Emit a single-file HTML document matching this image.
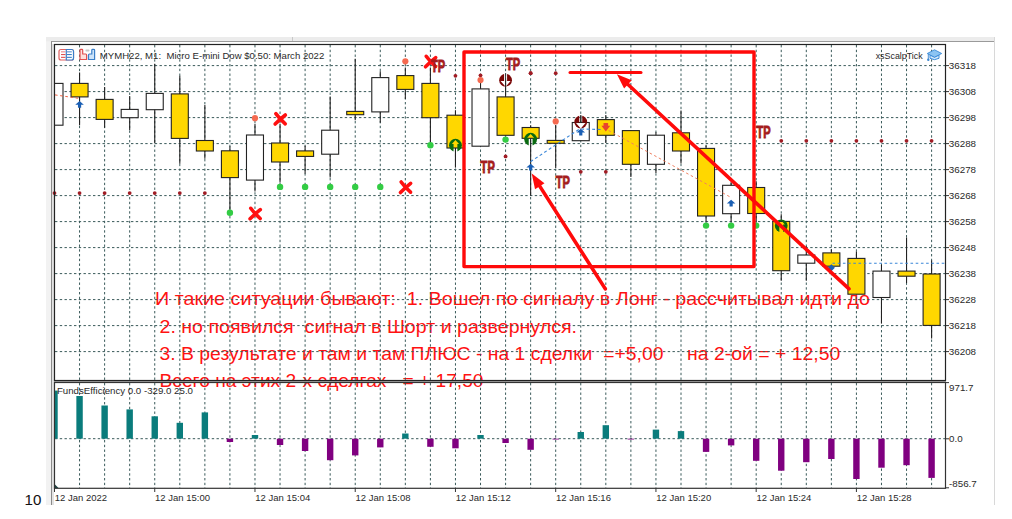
<!DOCTYPE html>
<html><head><meta charset="utf-8"><style>
html,body{margin:0;padding:0;background:#fff;}
svg{display:block;}
text{font-family:"Liberation Sans",sans-serif;white-space:pre;}
.ax{font-size:9.8px;fill:#2a2a2a;}
.tm{font-size:9.5px;fill:#2a2a2a;}
.hd{font-size:9.6px;fill:#2a2a2a;}
.tp{font-size:17.3px;font-weight:bold;fill:#a51c1c;stroke:#a51c1c;stroke-width:0.9px;}
.rt{font-size:19px;fill:#ff1212;}
.ten{font-size:15.1px;fill:#111;}
</style></head><body>
<svg width="1012" height="519" viewBox="0 0 1012 519" xml:space="preserve">
<defs><clipPath id="mainclip"><rect x="55" y="45" width="890" height="335"/></clipPath></defs>
<rect x="46" y="37" width="948.5" height="468" fill="#f2f2f2"/>
<rect x="46" y="37" width="948.5" height="4.3" fill="#ececec"/>
<line x1="51" y1="41.5" x2="994" y2="41.5" stroke="#9a9a9a" stroke-width="1"/>
<line x1="51.5" y1="41.5" x2="51.5" y2="505" stroke="#8a8a8a" stroke-width="1"/>
<rect x="52" y="42" width="942" height="463" fill="#ffffff"/>
<rect x="52" y="44" width="2" height="461" fill="#e2e2e2"/>
<line x1="994.5" y1="37" x2="994.5" y2="505" stroke="#d8d8d8" stroke-width="1"/>
<line x1="292.5" y1="37" x2="292.5" y2="41" stroke="#c8c8c8" stroke-width="1"/>
<text x="155" y="305.1" class="rt" textLength="715" lengthAdjust="spacingAndGlyphs">И такие ситуации бывают:  1. Вошел по сигналу в Лонг - рассчитывал идти до</text>
<text x="159.5" y="332.9" class="rt" textLength="417.5" lengthAdjust="spacingAndGlyphs">2. но появился  сигнал в Шорт и развернулся.</text>
<text x="159.5" y="360.3" class="rt" textLength="504" lengthAdjust="spacingAndGlyphs">3. В результате и там и там ПЛЮС - на 1 сделки  =+5,00</text>
<text x="687" y="360.3" class="rt" textLength="153.3" lengthAdjust="spacingAndGlyphs">на 2-ой = + 12,50</text>
<text x="159.5" y="386.7" class="rt" textLength="324" lengthAdjust="spacingAndGlyphs">Всего на этих 2-х сделгах   = + 17,50</text>
<line x1="79.56" y1="45" x2="79.56" y2="380" stroke="#3a5a5a" stroke-width="1" stroke-dasharray="2.4 2.35"/>
<line x1="79.56" y1="383" x2="79.56" y2="488" stroke="#3a5a5a" stroke-width="1" stroke-dasharray="2.4 2.35"/>
<line x1="104.62" y1="45" x2="104.62" y2="380" stroke="#3a5a5a" stroke-width="1" stroke-dasharray="2.4 2.35"/>
<line x1="104.62" y1="383" x2="104.62" y2="488" stroke="#3a5a5a" stroke-width="1" stroke-dasharray="2.4 2.35"/>
<line x1="129.68" y1="45" x2="129.68" y2="380" stroke="#3a5a5a" stroke-width="1" stroke-dasharray="2.4 2.35"/>
<line x1="129.68" y1="383" x2="129.68" y2="488" stroke="#3a5a5a" stroke-width="1" stroke-dasharray="2.4 2.35"/>
<line x1="154.74" y1="45" x2="154.74" y2="380" stroke="#3a5a5a" stroke-width="1" stroke-dasharray="2.4 2.35"/>
<line x1="154.74" y1="383" x2="154.74" y2="488" stroke="#3a5a5a" stroke-width="1" stroke-dasharray="2.4 2.35"/>
<line x1="179.80" y1="45" x2="179.80" y2="380" stroke="#3a5a5a" stroke-width="1" stroke-dasharray="2.4 2.35"/>
<line x1="179.80" y1="383" x2="179.80" y2="488" stroke="#3a5a5a" stroke-width="1" stroke-dasharray="2.4 2.35"/>
<line x1="204.86" y1="45" x2="204.86" y2="380" stroke="#3a5a5a" stroke-width="1" stroke-dasharray="2.4 2.35"/>
<line x1="204.86" y1="383" x2="204.86" y2="488" stroke="#3a5a5a" stroke-width="1" stroke-dasharray="2.4 2.35"/>
<line x1="229.92" y1="45" x2="229.92" y2="380" stroke="#3a5a5a" stroke-width="1" stroke-dasharray="2.4 2.35"/>
<line x1="229.92" y1="383" x2="229.92" y2="488" stroke="#3a5a5a" stroke-width="1" stroke-dasharray="2.4 2.35"/>
<line x1="254.98" y1="45" x2="254.98" y2="380" stroke="#3a5a5a" stroke-width="1" stroke-dasharray="2.4 2.35"/>
<line x1="254.98" y1="383" x2="254.98" y2="488" stroke="#3a5a5a" stroke-width="1" stroke-dasharray="2.4 2.35"/>
<line x1="280.04" y1="45" x2="280.04" y2="380" stroke="#3a5a5a" stroke-width="1" stroke-dasharray="2.4 2.35"/>
<line x1="280.04" y1="383" x2="280.04" y2="488" stroke="#3a5a5a" stroke-width="1" stroke-dasharray="2.4 2.35"/>
<line x1="305.10" y1="45" x2="305.10" y2="380" stroke="#3a5a5a" stroke-width="1" stroke-dasharray="2.4 2.35"/>
<line x1="305.10" y1="383" x2="305.10" y2="488" stroke="#3a5a5a" stroke-width="1" stroke-dasharray="2.4 2.35"/>
<line x1="330.16" y1="45" x2="330.16" y2="380" stroke="#3a5a5a" stroke-width="1" stroke-dasharray="2.4 2.35"/>
<line x1="330.16" y1="383" x2="330.16" y2="488" stroke="#3a5a5a" stroke-width="1" stroke-dasharray="2.4 2.35"/>
<line x1="355.22" y1="45" x2="355.22" y2="380" stroke="#3a5a5a" stroke-width="1" stroke-dasharray="2.4 2.35"/>
<line x1="355.22" y1="383" x2="355.22" y2="488" stroke="#3a5a5a" stroke-width="1" stroke-dasharray="2.4 2.35"/>
<line x1="380.28" y1="45" x2="380.28" y2="380" stroke="#3a5a5a" stroke-width="1" stroke-dasharray="2.4 2.35"/>
<line x1="380.28" y1="383" x2="380.28" y2="488" stroke="#3a5a5a" stroke-width="1" stroke-dasharray="2.4 2.35"/>
<line x1="405.34" y1="45" x2="405.34" y2="380" stroke="#3a5a5a" stroke-width="1" stroke-dasharray="2.4 2.35"/>
<line x1="405.34" y1="383" x2="405.34" y2="488" stroke="#3a5a5a" stroke-width="1" stroke-dasharray="2.4 2.35"/>
<line x1="430.40" y1="45" x2="430.40" y2="380" stroke="#3a5a5a" stroke-width="1" stroke-dasharray="2.4 2.35"/>
<line x1="430.40" y1="383" x2="430.40" y2="488" stroke="#3a5a5a" stroke-width="1" stroke-dasharray="2.4 2.35"/>
<line x1="455.46" y1="45" x2="455.46" y2="380" stroke="#3a5a5a" stroke-width="1" stroke-dasharray="2.4 2.35"/>
<line x1="455.46" y1="383" x2="455.46" y2="488" stroke="#3a5a5a" stroke-width="1" stroke-dasharray="2.4 2.35"/>
<line x1="480.52" y1="45" x2="480.52" y2="380" stroke="#3a5a5a" stroke-width="1" stroke-dasharray="2.4 2.35"/>
<line x1="480.52" y1="383" x2="480.52" y2="488" stroke="#3a5a5a" stroke-width="1" stroke-dasharray="2.4 2.35"/>
<line x1="505.58" y1="45" x2="505.58" y2="380" stroke="#3a5a5a" stroke-width="1" stroke-dasharray="2.4 2.35"/>
<line x1="505.58" y1="383" x2="505.58" y2="488" stroke="#3a5a5a" stroke-width="1" stroke-dasharray="2.4 2.35"/>
<line x1="530.64" y1="45" x2="530.64" y2="380" stroke="#3a5a5a" stroke-width="1" stroke-dasharray="2.4 2.35"/>
<line x1="530.64" y1="383" x2="530.64" y2="488" stroke="#3a5a5a" stroke-width="1" stroke-dasharray="2.4 2.35"/>
<line x1="555.70" y1="45" x2="555.70" y2="380" stroke="#3a5a5a" stroke-width="1" stroke-dasharray="2.4 2.35"/>
<line x1="555.70" y1="383" x2="555.70" y2="488" stroke="#3a5a5a" stroke-width="1" stroke-dasharray="2.4 2.35"/>
<line x1="580.76" y1="45" x2="580.76" y2="380" stroke="#3a5a5a" stroke-width="1" stroke-dasharray="2.4 2.35"/>
<line x1="580.76" y1="383" x2="580.76" y2="488" stroke="#3a5a5a" stroke-width="1" stroke-dasharray="2.4 2.35"/>
<line x1="605.82" y1="45" x2="605.82" y2="380" stroke="#3a5a5a" stroke-width="1" stroke-dasharray="2.4 2.35"/>
<line x1="605.82" y1="383" x2="605.82" y2="488" stroke="#3a5a5a" stroke-width="1" stroke-dasharray="2.4 2.35"/>
<line x1="630.88" y1="45" x2="630.88" y2="380" stroke="#3a5a5a" stroke-width="1" stroke-dasharray="2.4 2.35"/>
<line x1="630.88" y1="383" x2="630.88" y2="488" stroke="#3a5a5a" stroke-width="1" stroke-dasharray="2.4 2.35"/>
<line x1="655.94" y1="45" x2="655.94" y2="380" stroke="#3a5a5a" stroke-width="1" stroke-dasharray="2.4 2.35"/>
<line x1="655.94" y1="383" x2="655.94" y2="488" stroke="#3a5a5a" stroke-width="1" stroke-dasharray="2.4 2.35"/>
<line x1="681.00" y1="45" x2="681.00" y2="380" stroke="#3a5a5a" stroke-width="1" stroke-dasharray="2.4 2.35"/>
<line x1="681.00" y1="383" x2="681.00" y2="488" stroke="#3a5a5a" stroke-width="1" stroke-dasharray="2.4 2.35"/>
<line x1="706.06" y1="45" x2="706.06" y2="380" stroke="#3a5a5a" stroke-width="1" stroke-dasharray="2.4 2.35"/>
<line x1="706.06" y1="383" x2="706.06" y2="488" stroke="#3a5a5a" stroke-width="1" stroke-dasharray="2.4 2.35"/>
<line x1="731.12" y1="45" x2="731.12" y2="380" stroke="#3a5a5a" stroke-width="1" stroke-dasharray="2.4 2.35"/>
<line x1="731.12" y1="383" x2="731.12" y2="488" stroke="#3a5a5a" stroke-width="1" stroke-dasharray="2.4 2.35"/>
<line x1="756.18" y1="45" x2="756.18" y2="380" stroke="#3a5a5a" stroke-width="1" stroke-dasharray="2.4 2.35"/>
<line x1="756.18" y1="383" x2="756.18" y2="488" stroke="#3a5a5a" stroke-width="1" stroke-dasharray="2.4 2.35"/>
<line x1="781.24" y1="45" x2="781.24" y2="380" stroke="#3a5a5a" stroke-width="1" stroke-dasharray="2.4 2.35"/>
<line x1="781.24" y1="383" x2="781.24" y2="488" stroke="#3a5a5a" stroke-width="1" stroke-dasharray="2.4 2.35"/>
<line x1="806.30" y1="45" x2="806.30" y2="380" stroke="#3a5a5a" stroke-width="1" stroke-dasharray="2.4 2.35"/>
<line x1="806.30" y1="383" x2="806.30" y2="488" stroke="#3a5a5a" stroke-width="1" stroke-dasharray="2.4 2.35"/>
<line x1="831.36" y1="45" x2="831.36" y2="380" stroke="#3a5a5a" stroke-width="1" stroke-dasharray="2.4 2.35"/>
<line x1="831.36" y1="383" x2="831.36" y2="488" stroke="#3a5a5a" stroke-width="1" stroke-dasharray="2.4 2.35"/>
<line x1="856.42" y1="45" x2="856.42" y2="380" stroke="#3a5a5a" stroke-width="1" stroke-dasharray="2.4 2.35"/>
<line x1="856.42" y1="383" x2="856.42" y2="488" stroke="#3a5a5a" stroke-width="1" stroke-dasharray="2.4 2.35"/>
<line x1="881.48" y1="45" x2="881.48" y2="380" stroke="#3a5a5a" stroke-width="1" stroke-dasharray="2.4 2.35"/>
<line x1="881.48" y1="383" x2="881.48" y2="488" stroke="#3a5a5a" stroke-width="1" stroke-dasharray="2.4 2.35"/>
<line x1="906.54" y1="45" x2="906.54" y2="380" stroke="#3a5a5a" stroke-width="1" stroke-dasharray="2.4 2.35"/>
<line x1="906.54" y1="383" x2="906.54" y2="488" stroke="#3a5a5a" stroke-width="1" stroke-dasharray="2.4 2.35"/>
<line x1="931.60" y1="45" x2="931.60" y2="380" stroke="#3a5a5a" stroke-width="1" stroke-dasharray="2.4 2.35"/>
<line x1="931.60" y1="383" x2="931.60" y2="488" stroke="#3a5a5a" stroke-width="1" stroke-dasharray="2.4 2.35"/>
<line x1="55" y1="65.60" x2="945" y2="65.60" stroke="#3a5a5a" stroke-width="1" stroke-dasharray="2.4 2.35"/>
<line x1="55" y1="91.60" x2="945" y2="91.60" stroke="#3a5a5a" stroke-width="1" stroke-dasharray="2.4 2.35"/>
<line x1="55" y1="117.60" x2="945" y2="117.60" stroke="#3a5a5a" stroke-width="1" stroke-dasharray="2.4 2.35"/>
<line x1="55" y1="143.60" x2="945" y2="143.60" stroke="#3a5a5a" stroke-width="1" stroke-dasharray="2.4 2.35"/>
<line x1="55" y1="169.60" x2="945" y2="169.60" stroke="#3a5a5a" stroke-width="1" stroke-dasharray="2.4 2.35"/>
<line x1="55" y1="195.60" x2="945" y2="195.60" stroke="#3a5a5a" stroke-width="1" stroke-dasharray="2.4 2.35"/>
<line x1="55" y1="221.60" x2="945" y2="221.60" stroke="#3a5a5a" stroke-width="1" stroke-dasharray="2.4 2.35"/>
<line x1="55" y1="247.60" x2="945" y2="247.60" stroke="#3a5a5a" stroke-width="1" stroke-dasharray="2.4 2.35"/>
<line x1="55" y1="273.60" x2="945" y2="273.60" stroke="#3a5a5a" stroke-width="1" stroke-dasharray="2.4 2.35"/>
<line x1="55" y1="299.60" x2="945" y2="299.60" stroke="#3a5a5a" stroke-width="1" stroke-dasharray="2.4 2.35"/>
<line x1="55" y1="325.60" x2="945" y2="325.60" stroke="#3a5a5a" stroke-width="1" stroke-dasharray="2.4 2.35"/>
<line x1="55" y1="351.60" x2="945" y2="351.60" stroke="#3a5a5a" stroke-width="1" stroke-dasharray="2.4 2.35"/>
<line x1="55" y1="438.7" x2="945" y2="438.7" stroke="#3a5a5a" stroke-width="1" stroke-dasharray="2.4 2.35"/>
<line x1="945" y1="65.60" x2="949" y2="65.60" stroke="#333" stroke-width="1"/>
<text x="948.8" y="69.10" class="ax">36318</text>
<line x1="945" y1="91.60" x2="949" y2="91.60" stroke="#333" stroke-width="1"/>
<text x="948.8" y="95.10" class="ax">36308</text>
<line x1="945" y1="117.60" x2="949" y2="117.60" stroke="#333" stroke-width="1"/>
<text x="948.8" y="121.10" class="ax">36298</text>
<line x1="945" y1="143.60" x2="949" y2="143.60" stroke="#333" stroke-width="1"/>
<text x="948.8" y="147.10" class="ax">36288</text>
<line x1="945" y1="169.60" x2="949" y2="169.60" stroke="#333" stroke-width="1"/>
<text x="948.8" y="173.10" class="ax">36278</text>
<line x1="945" y1="195.60" x2="949" y2="195.60" stroke="#333" stroke-width="1"/>
<text x="948.8" y="199.10" class="ax">36268</text>
<line x1="945" y1="221.60" x2="949" y2="221.60" stroke="#333" stroke-width="1"/>
<text x="948.8" y="225.10" class="ax">36258</text>
<line x1="945" y1="247.60" x2="949" y2="247.60" stroke="#333" stroke-width="1"/>
<text x="948.8" y="251.10" class="ax">36248</text>
<line x1="945" y1="273.60" x2="949" y2="273.60" stroke="#333" stroke-width="1"/>
<text x="948.8" y="277.10" class="ax">36238</text>
<line x1="945" y1="299.60" x2="949" y2="299.60" stroke="#333" stroke-width="1"/>
<text x="948.8" y="303.10" class="ax">36228</text>
<line x1="945" y1="325.60" x2="949" y2="325.60" stroke="#333" stroke-width="1"/>
<text x="948.8" y="329.10" class="ax">36218</text>
<line x1="945" y1="351.60" x2="949" y2="351.60" stroke="#333" stroke-width="1"/>
<text x="948.8" y="355.10" class="ax">36208</text>
<line x1="945" y1="382.6" x2="949" y2="382.6" stroke="#333" stroke-width="1"/>
<line x1="945" y1="438.8" x2="949" y2="438.8" stroke="#333" stroke-width="1"/>
<line x1="945" y1="487.8" x2="949" y2="487.8" stroke="#333" stroke-width="1"/>
<text x="949" y="391" class="ax">971.7</text>
<text x="949" y="442.3" class="ax">0.0</text>
<text x="949" y="487" class="ax">-856.7</text>
<line x1="54.50" y1="488" x2="54.50" y2="492" stroke="#333" stroke-width="1"/>
<text x="54.80" y="501" class="tm">12 Jan 2022</text>
<line x1="154.74" y1="488" x2="154.74" y2="492" stroke="#333" stroke-width="1"/>
<text x="155.04" y="501" class="tm">12 Jan 15:00</text>
<line x1="254.98" y1="488" x2="254.98" y2="492" stroke="#333" stroke-width="1"/>
<text x="255.28" y="501" class="tm">12 Jan 15:04</text>
<line x1="355.22" y1="488" x2="355.22" y2="492" stroke="#333" stroke-width="1"/>
<text x="355.52" y="501" class="tm">12 Jan 15:08</text>
<line x1="455.46" y1="488" x2="455.46" y2="492" stroke="#333" stroke-width="1"/>
<text x="455.76" y="501" class="tm">12 Jan 15:12</text>
<line x1="555.70" y1="488" x2="555.70" y2="492" stroke="#333" stroke-width="1"/>
<text x="556.00" y="501" class="tm">12 Jan 15:16</text>
<line x1="655.94" y1="488" x2="655.94" y2="492" stroke="#333" stroke-width="1"/>
<text x="656.24" y="501" class="tm">12 Jan 15:20</text>
<line x1="756.18" y1="488" x2="756.18" y2="492" stroke="#333" stroke-width="1"/>
<text x="756.48" y="501" class="tm">12 Jan 15:24</text>
<line x1="856.42" y1="488" x2="856.42" y2="492" stroke="#333" stroke-width="1"/>
<text x="856.72" y="501" class="tm">12 Jan 15:28</text>
<g clip-path="url(#mainclip)">
<rect x="46.00" y="83.4" width="17" height="41.80" fill="#ffffff" stroke="#222" stroke-width="1.1"/>
<line x1="79.56" y1="72.6" x2="79.56" y2="125.2" stroke="#222" stroke-width="1.1"/>
<rect x="71.06" y="83.4" width="17" height="13.50" fill="#ffd700" stroke="#222" stroke-width="1.1"/>
<line x1="104.62" y1="87.1" x2="104.62" y2="127.7" stroke="#222" stroke-width="1.1"/>
<rect x="96.12" y="99.4" width="17" height="20.00" fill="#ffd700" stroke="#222" stroke-width="1.1"/>
<line x1="129.68" y1="95.9" x2="129.68" y2="130.2" stroke="#222" stroke-width="1.1"/>
<rect x="121.18" y="109.4" width="17" height="8.30" fill="#ffffff" stroke="#222" stroke-width="1.1"/>
<line x1="154.74" y1="63.8" x2="154.74" y2="143.2" stroke="#222" stroke-width="1.1"/>
<rect x="146.24" y="93.4" width="17" height="16.30" fill="#ffffff" stroke="#222" stroke-width="1.1"/>
<line x1="179.80" y1="75.8" x2="179.80" y2="163.8" stroke="#222" stroke-width="1.1"/>
<rect x="171.30" y="93.9" width="17" height="44.50" fill="#ffd700" stroke="#222" stroke-width="1.1"/>
<line x1="204.86" y1="105.1" x2="204.86" y2="158.8" stroke="#222" stroke-width="1.1"/>
<rect x="196.36" y="140.5" width="17" height="10.50" fill="#ffd700" stroke="#222" stroke-width="1.1"/>
<line x1="229.92" y1="146.3" x2="229.92" y2="212.7" stroke="#222" stroke-width="1.1"/>
<rect x="221.42" y="150.8" width="17" height="26.80" fill="#ffd700" stroke="#222" stroke-width="1.1"/>
<line x1="254.98" y1="124" x2="254.98" y2="191.4" stroke="#222" stroke-width="1.1"/>
<rect x="246.48" y="135" width="17" height="45.10" fill="#ffffff" stroke="#222" stroke-width="1.1"/>
<line x1="280.04" y1="124" x2="280.04" y2="182.6" stroke="#222" stroke-width="1.1"/>
<rect x="271.54" y="143" width="17" height="19.00" fill="#ffd700" stroke="#222" stroke-width="1.1"/>
<line x1="305.10" y1="145.7" x2="305.10" y2="173.8" stroke="#222" stroke-width="1.1"/>
<rect x="296.60" y="150.9" width="17" height="5.50" fill="#ffd700" stroke="#222" stroke-width="1.1"/>
<line x1="330.16" y1="96.4" x2="330.16" y2="177.6" stroke="#222" stroke-width="1.1"/>
<rect x="321.66" y="130.2" width="17" height="24.00" fill="#ffffff" stroke="#222" stroke-width="1.1"/>
<line x1="355.22" y1="58.8" x2="355.22" y2="120.2" stroke="#222" stroke-width="1.1"/>
<rect x="346.72" y="111.4" width="17" height="3.30" fill="#ffd700" stroke="#222" stroke-width="1.1"/>
<line x1="380.28" y1="71.3" x2="380.28" y2="122.7" stroke="#222" stroke-width="1.1"/>
<rect x="371.78" y="77.6" width="17" height="34.30" fill="#ffffff" stroke="#222" stroke-width="1.1"/>
<line x1="405.34" y1="67.6" x2="405.34" y2="98.9" stroke="#222" stroke-width="1.1"/>
<rect x="396.84" y="75.6" width="17" height="13.80" fill="#ffd700" stroke="#222" stroke-width="1.1"/>
<line x1="430.40" y1="67.6" x2="430.40" y2="145.2" stroke="#222" stroke-width="1.1"/>
<rect x="421.90" y="83.4" width="17" height="34.30" fill="#ffd700" stroke="#222" stroke-width="1.1"/>
<line x1="455.46" y1="110.2" x2="455.46" y2="167.6" stroke="#222" stroke-width="1.1"/>
<rect x="446.96" y="115.2" width="17" height="32.80" fill="#ffd700" stroke="#222" stroke-width="1.1"/>
<line x1="480.52" y1="80" x2="480.52" y2="146.2" stroke="#222" stroke-width="1.1"/>
<rect x="472.02" y="88.9" width="17" height="57.30" fill="#ffffff" stroke="#222" stroke-width="1.1"/>
<line x1="505.58" y1="80" x2="505.58" y2="135.3" stroke="#222" stroke-width="1.1"/>
<rect x="497.08" y="96.9" width="17" height="38.40" fill="#ffd700" stroke="#222" stroke-width="1.1"/>
<line x1="530.64" y1="125.2" x2="530.64" y2="195.7" stroke="#222" stroke-width="1.1"/>
<rect x="522.14" y="127.5" width="17" height="10.80" fill="#ffd700" stroke="#222" stroke-width="1.1"/>
<line x1="555.70" y1="125" x2="555.70" y2="168" stroke="#222" stroke-width="1.1"/>
<rect x="547.20" y="140.4" width="17" height="2.90" fill="#ffd700" stroke="#222" stroke-width="1.1"/>
<line x1="580.76" y1="115.5" x2="580.76" y2="140.7" stroke="#222" stroke-width="1.1"/>
<rect x="572.26" y="122.5" width="17" height="18.20" fill="#ffffff" stroke="#222" stroke-width="1.1"/>
<line x1="605.82" y1="115" x2="605.82" y2="143" stroke="#222" stroke-width="1.1"/>
<rect x="597.32" y="119.6" width="17" height="15.70" fill="#ffd700" stroke="#222" stroke-width="1.1"/>
<line x1="630.88" y1="130.6" x2="630.88" y2="177" stroke="#222" stroke-width="1.1"/>
<rect x="622.38" y="130.6" width="17" height="33.70" fill="#ffd700" stroke="#222" stroke-width="1.1"/>
<line x1="655.94" y1="132.2" x2="655.94" y2="173" stroke="#222" stroke-width="1.1"/>
<rect x="647.44" y="135.2" width="17" height="29.10" fill="#ffffff" stroke="#222" stroke-width="1.1"/>
<line x1="681.00" y1="110.4" x2="681.00" y2="163.5" stroke="#222" stroke-width="1.1"/>
<rect x="672.50" y="132.8" width="17" height="18.20" fill="#ffd700" stroke="#222" stroke-width="1.1"/>
<line x1="706.06" y1="145.6" x2="706.06" y2="221.7" stroke="#222" stroke-width="1.1"/>
<rect x="697.56" y="148.4" width="17" height="67.60" fill="#ffd700" stroke="#222" stroke-width="1.1"/>
<line x1="731.12" y1="182.2" x2="731.12" y2="221.7" stroke="#222" stroke-width="1.1"/>
<rect x="722.62" y="185.3" width="17" height="28.40" fill="#ffffff" stroke="#222" stroke-width="1.1"/>
<line x1="756.18" y1="181.2" x2="756.18" y2="221.7" stroke="#222" stroke-width="1.1"/>
<rect x="747.68" y="187.5" width="17" height="26.00" fill="#ffd700" stroke="#222" stroke-width="1.1"/>
<line x1="781.24" y1="214.3" x2="781.24" y2="280.8" stroke="#222" stroke-width="1.1"/>
<rect x="772.74" y="221.4" width="17" height="49.30" fill="#ffd700" stroke="#222" stroke-width="1.1"/>
<line x1="806.30" y1="246.3" x2="806.30" y2="280.8" stroke="#222" stroke-width="1.1"/>
<rect x="797.80" y="255" width="17" height="8.20" fill="#ffffff" stroke="#222" stroke-width="1.1"/>
<line x1="831.36" y1="249.3" x2="831.36" y2="266.2" stroke="#222" stroke-width="1.1"/>
<rect x="822.86" y="252.9" width="17" height="13.30" fill="#ffd700" stroke="#222" stroke-width="1.1"/>
<line x1="856.42" y1="251.6" x2="856.42" y2="294.2" stroke="#222" stroke-width="1.1"/>
<rect x="847.92" y="258.4" width="17" height="35.80" fill="#ffd700" stroke="#222" stroke-width="1.1"/>
<line x1="881.48" y1="264.7" x2="881.48" y2="323.6" stroke="#222" stroke-width="1.1"/>
<rect x="872.98" y="271.1" width="17" height="26.40" fill="#ffffff" stroke="#222" stroke-width="1.1"/>
<line x1="906.54" y1="237.5" x2="906.54" y2="283" stroke="#222" stroke-width="1.1"/>
<rect x="898.04" y="271.1" width="17" height="5.10" fill="#ffd700" stroke="#222" stroke-width="1.1"/>
<line x1="931.60" y1="260.5" x2="931.60" y2="338.6" stroke="#222" stroke-width="1.1"/>
<rect x="923.10" y="274" width="17" height="51.40" fill="#ffd700" stroke="#222" stroke-width="1.1"/>
</g>
<circle cx="54.50" cy="193.10" r="1.9" fill="#a01c24"/>
<circle cx="79.56" cy="193.10" r="1.9" fill="#a01c24"/>
<circle cx="104.62" cy="193.10" r="1.9" fill="#a01c24"/>
<circle cx="129.68" cy="193.10" r="1.9" fill="#a01c24"/>
<circle cx="154.74" cy="193.10" r="1.9" fill="#a01c24"/>
<circle cx="179.80" cy="193.10" r="1.9" fill="#a01c24"/>
<circle cx="204.86" cy="193.10" r="1.9" fill="#a01c24"/>
<circle cx="530.64" cy="73.20" r="1.9" fill="#a01c24"/>
<circle cx="455.46" cy="75.80" r="1.9" fill="#a01c24"/>
<circle cx="480.52" cy="75.30" r="1.9" fill="#a01c24"/>
<circle cx="530.64" cy="73.20" r="1.9" fill="#a01c24"/>
<circle cx="555.70" cy="73.20" r="1.9" fill="#a01c24"/>
<circle cx="505.58" cy="156.40" r="1.9" fill="#a01c24"/>
<circle cx="580.76" cy="171.80" r="1.9" fill="#a01c24"/>
<circle cx="605.82" cy="171.80" r="1.9" fill="#a01c24"/>
<circle cx="781.24" cy="140.80" r="1.9" fill="#a01c24"/>
<circle cx="806.30" cy="140.80" r="1.9" fill="#a01c24"/>
<circle cx="831.36" cy="140.80" r="1.9" fill="#a01c24"/>
<circle cx="856.42" cy="140.80" r="1.9" fill="#a01c24"/>
<circle cx="881.48" cy="140.80" r="1.9" fill="#a01c24"/>
<circle cx="906.54" cy="140.80" r="1.9" fill="#a01c24"/>
<circle cx="931.60" cy="140.80" r="1.9" fill="#a01c24"/>
<circle cx="254.98" cy="118.20" r="3.1" fill="#f56a50"/>
<circle cx="405.34" cy="61.30" r="3.1" fill="#f56a50"/>
<circle cx="480.52" cy="80.10" r="3.1" fill="#f56a50"/>
<circle cx="555.70" cy="121.40" r="3.1" fill="#f56a50"/>
<circle cx="229.92" cy="212.70" r="3.2" fill="#33cc44"/>
<circle cx="280.04" cy="186.90" r="3.2" fill="#33cc44"/>
<circle cx="305.10" cy="186.90" r="3.2" fill="#33cc44"/>
<circle cx="330.16" cy="186.90" r="3.2" fill="#33cc44"/>
<circle cx="355.22" cy="186.90" r="3.2" fill="#33cc44"/>
<circle cx="380.28" cy="186.90" r="3.2" fill="#33cc44"/>
<circle cx="430.40" cy="145.20" r="3.2" fill="#33cc44"/>
<circle cx="505.58" cy="139.60" r="3.2" fill="#33cc44"/>
<circle cx="706.06" cy="225.60" r="3.2" fill="#33cc44"/>
<circle cx="731.12" cy="225.60" r="3.2" fill="#33cc44"/>
<circle cx="756.18" cy="225.60" r="3.2" fill="#33cc44"/>
<g transform="translate(280.04,119.20) scale(1.0)"><path d="M-4.2,-5.6 Q-0.5,-0.5 5.2,4.6 M5.3,-4.2 Q0,0 -4.9,4.9" stroke="#ff1010" stroke-width="3.6" stroke-linecap="round" fill="none"/></g>
<g transform="translate(254.98,213.90) scale(1.0)"><path d="M-4.2,-5.6 Q-0.5,-0.5 5.2,4.6 M5.3,-4.2 Q0,0 -4.9,4.9" stroke="#ff1010" stroke-width="3.6" stroke-linecap="round" fill="none"/></g>
<g transform="translate(405.34,187.60) scale(1.0)"><path d="M-4.2,-5.6 Q-0.5,-0.5 5.2,4.6 M5.3,-4.2 Q0,0 -4.9,4.9" stroke="#ff1010" stroke-width="3.6" stroke-linecap="round" fill="none"/></g>
<g transform="translate(430.40,61.90) scale(1.0)"><path d="M-4.2,-5.6 Q-0.5,-0.5 5.2,4.6 M5.3,-4.2 Q0,0 -4.9,4.9" stroke="#ff1010" stroke-width="3.6" stroke-linecap="round" fill="none"/></g>
<text x="431" y="72.2" class="tp" textLength="14.2" lengthAdjust="spacingAndGlyphs">TP</text>
<text x="506" y="69.5" class="tp" textLength="14.2" lengthAdjust="spacingAndGlyphs">TP</text>
<text x="480.6" y="172.8" class="tp" textLength="14.2" lengthAdjust="spacingAndGlyphs">TP</text>
<text x="555.7" y="188.2" class="tp" textLength="14.2" lengthAdjust="spacingAndGlyphs">TP</text>
<text x="756.4" y="137.7" class="tp" textLength="14.2" lengthAdjust="spacingAndGlyphs">TP</text>
<path d="M75.26,104.80 L79.56,101.00 L83.86,104.80 L81.16,104.80 L81.16,107.70 L77.96,107.70 L77.96,104.80 Z" fill="#1a5fb4"/>
<path d="M526.34,167.50 L530.64,163.70 L534.94,167.50 L532.24,167.50 L532.24,170.40 L529.04,170.40 L529.04,167.50 Z" fill="#1a5fb4"/>
<path d="M576.46,132.50 L580.76,128.70 L585.06,132.50 L582.36,132.50 L582.36,135.40 L579.16,135.40 L579.16,132.50 Z" fill="#1a5fb4"/>
<path d="M726.82,203.50 L731.12,199.70 L735.42,203.50 L732.72,203.50 L732.72,206.40 L729.52,206.40 L729.52,203.50 Z" fill="#1a5fb4"/>
<path d="M827.86,267.8 L831.36,264.3 L834.86,267.8 L831.36,271.3 Z" fill="#1a5fb4"/>
<g transform="translate(455.46,145.20)"><mask id="mg1"><rect x="-8" y="-8" width="16" height="16" fill="#fff"/><path d="M-3.6,-1.2 L0,-5.2 L3.6,-1.2 L1.9,-1.2 L1.9,8 L-1.9,8 L-1.9,-1.2 Z" fill="#000"/></mask><circle r="6.4" fill="#0a6a10" mask="url(#mg1)"/></g>
<g transform="translate(530.64,139.20)"><mask id="mg2"><rect x="-8" y="-8" width="16" height="16" fill="#fff"/><path d="M-3.6,-1.2 L0,-5.2 L3.6,-1.2 L1.9,-1.2 L1.9,8 L-1.9,8 L-1.9,-1.2 Z" fill="#000"/></mask><circle r="6.4" fill="#0a6a10" mask="url(#mg2)"/></g>
<g transform="translate(781.24,225.80)"><mask id="mg3"><rect x="-8" y="-8" width="16" height="16" fill="#fff"/><path d="M-3.6,-1.2 L0,-5.2 L3.6,-1.2 L1.9,-1.2 L1.9,8 L-1.9,8 L-1.9,-1.2 Z" fill="#000"/></mask><circle r="6.4" fill="#0a6a10" mask="url(#mg3)"/></g>
<g transform="translate(505.58,80.20)"><mask id="mr1"><rect x="-8" y="-8" width="16" height="16" fill="#fff"/><path d="M-1.5,-8 L1.5,-8 L1.5,0.8 L5,0.8 L0,6.6 L-5,0.8 L-1.5,0.8 Z" fill="#000"/></mask><circle r="6.4" fill="#7a0808" mask="url(#mr1)"/><line x1="0" y1="-7" x2="0" y2="1" stroke="#333" stroke-width="1"/></g>
<g transform="translate(580.76,122.00)"><mask id="mr2"><rect x="-8" y="-8" width="16" height="16" fill="#fff"/><path d="M-1.5,-8 L1.5,-8 L1.5,0.8 L5,0.8 L0,6.6 L-5,0.8 L-1.5,0.8 Z" fill="#000"/></mask><circle r="6.4" fill="#7a0808" mask="url(#mr2)"/><line x1="0" y1="-7" x2="0" y2="1" stroke="#333" stroke-width="1"/></g>
<path d="M603.52,123 L608.12,123 L608.12,125.8 L610.22,125.8 L605.82,131.6 L601.42,125.8 L603.52,125.8 Z" fill="#e8452c"/>
<polyline points="530.5,161.7 579.5,129 601,129.5" fill="none" stroke="#3a86d8" stroke-width="1.1" stroke-dasharray="3 2.5"/>
<line x1="608.6" y1="130.5" x2="731.3" y2="197.6" stroke="#f08060" stroke-width="1" stroke-dasharray="2.6 2.6"/>
<line x1="55" y1="94.9" x2="78.5" y2="98.3" stroke="#f06040" stroke-width="1" stroke-dasharray="2.6 2.6"/>
<line x1="832.5" y1="263.3" x2="945" y2="263.3" stroke="#3a86d8" stroke-width="1.1" stroke-dasharray="2.6 2.6"/>
<rect x="54.50" y="390.6" width="3.20" height="48.10" fill="#0a7c7c"/>
<rect x="76.36" y="396" width="6.40" height="42.70" fill="#0a7c7c"/>
<rect x="101.42" y="405.5" width="6.40" height="33.20" fill="#0a7c7c"/>
<rect x="126.48" y="409.4" width="6.40" height="29.30" fill="#0a7c7c"/>
<rect x="151.54" y="416.3" width="6.40" height="22.40" fill="#0a7c7c"/>
<rect x="176.60" y="422.8" width="6.40" height="15.90" fill="#0a7c7c"/>
<rect x="201.66" y="412.4" width="6.40" height="26.30" fill="#0a7c7c"/>
<rect x="226.72" y="438.7" width="6.40" height="3.30" fill="#800080"/>
<rect x="251.78" y="435" width="6.40" height="3.70" fill="#0a7c7c"/>
<rect x="276.84" y="438.7" width="6.40" height="6.30" fill="#800080"/>
<rect x="301.90" y="438.7" width="6.40" height="12.30" fill="#800080"/>
<rect x="326.96" y="438.7" width="6.40" height="21.50" fill="#800080"/>
<rect x="352.02" y="438.7" width="6.40" height="16.70" fill="#800080"/>
<rect x="377.08" y="438.7" width="6.40" height="8.70" fill="#800080"/>
<rect x="402.14" y="433.5" width="6.40" height="5.20" fill="#0a7c7c"/>
<rect x="427.20" y="438.7" width="6.40" height="8.10" fill="#800080"/>
<rect x="452.26" y="438.7" width="6.40" height="9.60" fill="#800080"/>
<rect x="477.32" y="435" width="6.40" height="3.70" fill="#0a7c7c"/>
<rect x="502.38" y="438.7" width="6.40" height="4.30" fill="#800080"/>
<rect x="527.44" y="438.7" width="6.40" height="11.10" fill="#800080"/>
<rect x="552.50" y="438.7" width="6.40" height="0.80" fill="#800080"/>
<rect x="577.56" y="432" width="6.40" height="6.70" fill="#0a7c7c"/>
<rect x="602.62" y="425.2" width="6.40" height="13.50" fill="#0a7c7c"/>
<rect x="627.68" y="438.7" width="6.40" height="0.80" fill="#800080"/>
<rect x="652.74" y="429.6" width="6.40" height="9.10" fill="#0a7c7c"/>
<rect x="677.80" y="431.1" width="6.40" height="7.60" fill="#0a7c7c"/>
<rect x="702.86" y="438.7" width="6.40" height="13.20" fill="#800080"/>
<rect x="727.92" y="438.7" width="6.40" height="6.70" fill="#800080"/>
<rect x="752.98" y="438.7" width="6.40" height="22.10" fill="#800080"/>
<rect x="778.04" y="438.7" width="6.40" height="32.00" fill="#800080"/>
<rect x="803.10" y="438.7" width="6.40" height="23.50" fill="#800080"/>
<rect x="828.16" y="438.7" width="6.40" height="20.30" fill="#800080"/>
<rect x="853.22" y="438.7" width="6.40" height="40.30" fill="#800080"/>
<rect x="878.28" y="438.7" width="6.40" height="29.00" fill="#800080"/>
<rect x="903.34" y="438.7" width="6.40" height="26.50" fill="#800080"/>
<rect x="928.40" y="438.7" width="6.40" height="39.20" fill="#800080"/>
<rect x="54.5" y="44.5" width="891" height="336" fill="none" stroke="#222" stroke-width="1.2"/>
<line x1="54" y1="381.5" x2="946" y2="381.5" stroke="#999" stroke-width="1"/>
<rect x="54.5" y="382.5" width="891" height="105.8" fill="none" stroke="#333" stroke-width="1.2"/>
<path d="M55,484.5 L55,488 L58.5,488 Z" fill="#1f3f3f"/>
<text x="99.8" y="58.6" class="hd">MYMH22, M1:  Micro E-mini Dow $0.50: March 2022</text>
<text x="922.7" y="58.7" class="hd" text-anchor="end" style="font-size:8.9px">xsScalpTick</text>
<text x="56.9" y="394.3" class="hd" style="font-size:9.7px">FundsEfficiency 0.0 -329.0 25.0</text>
<g>
<rect x="59" y="49.5" width="14.5" height="10.5" rx="2" fill="#fff" stroke="#e06060" stroke-width="1.2"/>
<path d="M66.3,49.5 H71.5 A2,2 0 0 1 73.5,51.5 V58 A2,2 0 0 1 71.5,60 H66.3 Z" fill="#fff" stroke="#3a7fc8" stroke-width="1.2"/>
<rect x="61" y="51.3" width="4.5" height="1.1" fill="#e88"/><rect x="61" y="54" width="4.5" height="1.1" fill="#e05050"/><rect x="61" y="56.8" width="4.5" height="1.1" fill="#e05050"/>
<rect x="67" y="51.3" width="4.8" height="1.1" fill="#5a8fd0"/><rect x="67" y="54" width="4.8" height="1.1" fill="#3a7fc8"/><rect x="67" y="56.8" width="4.8" height="1.1" fill="#3a7fc8"/>
<path d="M80,59.5 V50 Q80,49.4 81,49.4 H82 Q82.7,49.4 82.7,50.2 V54 H85.8 Q86.6,54 86.6,55 V59.5 Z" fill="#fde0dc" stroke="#e05050" stroke-width="1.2"/>
<path d="M88.5,59.5 V55 Q88.5,54 89.4,54 H91.8 V50.2 Q91.8,49.4 92.6,49.4 H93.6 Q94.6,49.4 94.6,50 V59.5 Z" fill="#cde4fa" stroke="#3a7fc8" stroke-width="1.2"/>
<rect x="85.5" y="49.6" width="4" height="1.8" rx="0.6" fill="#c8c8c8"/>
</g>
<g>
<path d="M930,55 V58.3 Q934.5,61 939,58.3 V55 L934.5,57.2 Z" fill="#d6eafc" stroke="#3a8ad8" stroke-width="1"/>
<path d="M927.3,53.5 L934.5,49.8 L941.7,53.5 L934.5,57.2 Z" fill="#8cc4f2" stroke="#3a8ad8" stroke-width="0.9"/>
<line x1="928.3" y1="54" x2="928.3" y2="59" stroke="#3a86d0" stroke-width="0.9"/>
<circle cx="928.3" cy="59.8" r="1.2" fill="#3a86d0"/>
</g>
<rect x="464" y="52" width="290" height="214.6" fill="none" stroke="#ff0a0a" stroke-width="3.4" stroke-linejoin="round"/>
<line x1="570" y1="72.6" x2="641" y2="72.6" stroke="#ff0a0a" stroke-width="3" stroke-linecap="round"/>
<line x1="627.18" y1="83.80" x2="849.00" y2="288.90" stroke="#ff0a0a" stroke-width="3.6" stroke-linecap="round"/>
<path d="M616.90,74.30 L624.11,88.60 L631.72,80.37 Z" fill="#ff0a0a"/>
<line x1="539.23" y1="185.40" x2="605.30" y2="288.90" stroke="#ff0a0a" stroke-width="3.6" stroke-linecap="round"/>
<path d="M531.70,173.60 L535.05,189.26 L544.49,183.23 Z" fill="#ff0a0a"/>
<text x="24.6" y="504.7" class="ten">10</text>
</svg></body></html>
